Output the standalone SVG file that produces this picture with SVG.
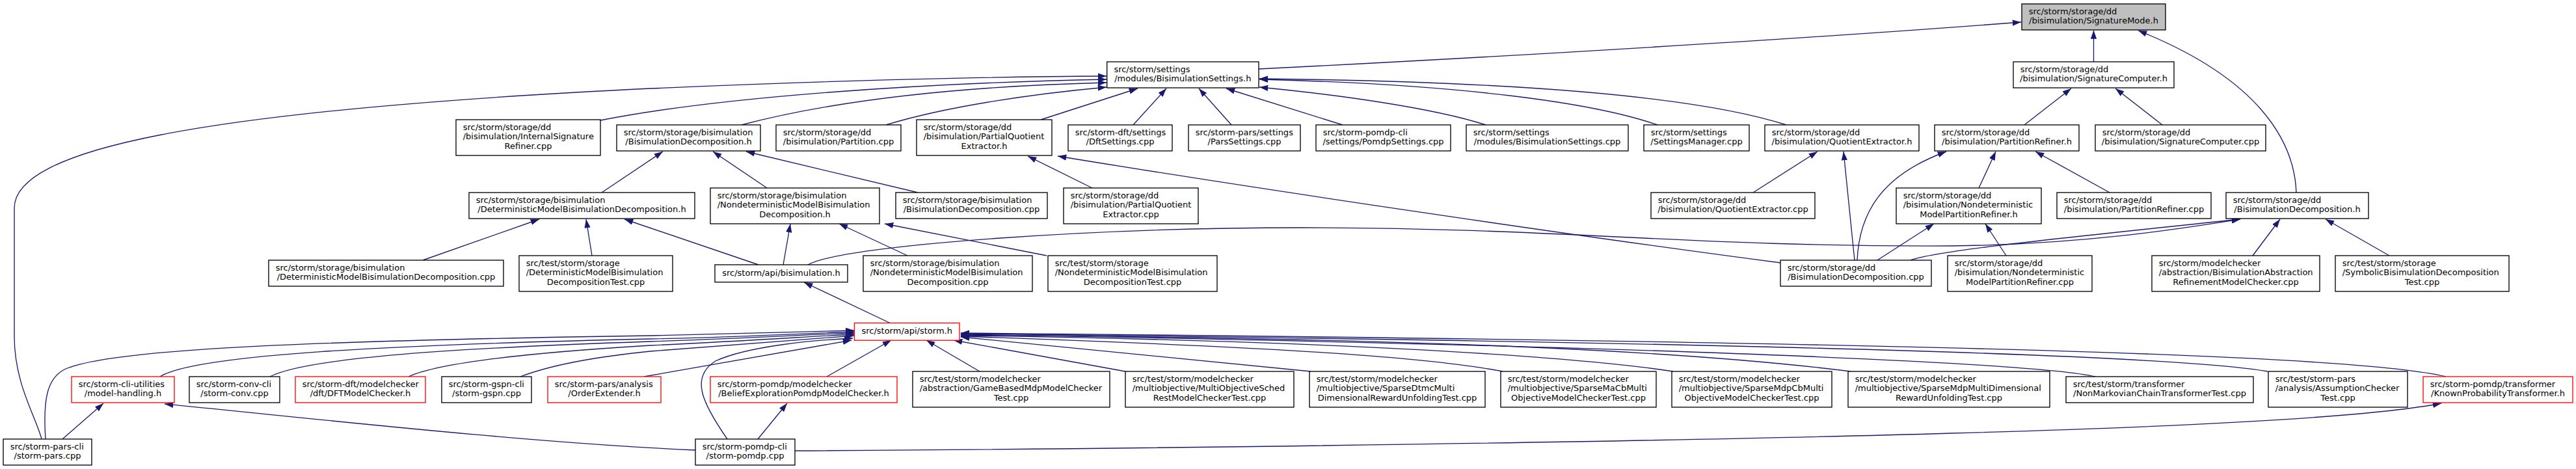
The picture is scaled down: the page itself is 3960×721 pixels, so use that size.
<svg xmlns="http://www.w3.org/2000/svg" width="3960" height="721" viewBox="0 0 3960 721">
<style>
.n rect{fill:#fff;stroke:#000;stroke-width:1.33}
.n.r rect{stroke:#ff0000}
.n.root rect{fill:#bfbfbf}
text{font-family:"DejaVu Sans","Liberation Sans",sans-serif;font-size:13px;fill:#000}
.c{text-anchor:middle}
#edges path{fill:none;stroke:#191970;stroke-width:1.33;marker-end:url(#a)}
</style>
<defs>
<marker id="a" viewBox="0 0 10 7" refX="10" refY="3.5" markerWidth="10" markerHeight="7" orient="auto" markerUnits="strokeWidth">
<path d="M0,0L10,3.5L0,7z" fill="#191970"/>
</marker>
</defs>
<rect width="3960" height="721" fill="#fff"/>
<g id="edges">
<path d="M1935,106 C2300,88 2800,58 3107,34"/>
<path d="M3218.5,95 L3218.5,46.5"/>
<path d="M3530,296 C3527,215 3470,120 3287,47"/>
<path d="M3112,192 L3184,136"/>
<path d="M3324,192 L3252,136"/>
<path d="M64,675 C55,640 22,590 22,517 L22,320 C22,230 300,170 1000,136 C1300,123 1500,118 1701,117"/>
<path d="M923,185 C1100,150 1400,128 1701,122"/>
<path d="M1140,192 C1300,150 1500,132 1701,127"/>
<path d="M1362,192 C1450,165 1580,145 1701,134"/>
<path d="M1600,184 L1749,136"/>
<path d="M1742,192 L1793,136"/>
<path d="M1893,192 L1843,136"/>
<path d="M2064,192 L1885,136"/>
<path d="M2284,192 C2200,165 2050,145 1936,134"/>
<path d="M2548,192 C2450,158 2250,130 1936,122"/>
<path d="M2746,192 C2600,145 2300,125 1936,121"/>
<path d="M925,296 L1019,233"/>
<path d="M1179,289 L1096,233"/>
<path d="M1411,296 L1147,233"/>
<path d="M1679,289 L1580,240"/>
<path d="M2737,404 C2400,360 1900,285 1626,240"/>
<path d="M1166,407 L960,337"/>
<path d="M650,400 L829,337"/>
<path d="M910,393 L901,337"/>
<path d="M1204,407 L1215,344"/>
<path d="M1395,393 L1290,344"/>
<path d="M1609,393 L1360,344"/>
<path d="M1242,407 C1300,375 1700,350 2000,350 C2400,350 2600,380 3000,378 C3200,376 3350,352 3444,337"/>
<path d="M2937,400 C2980,385 3150,368 3444,337"/>
<path d="M2695,296 L2794,233"/>
<path d="M2851,400 L2834,233"/>
<path d="M2855,400 C2858,330 2890,270 2992,233"/>
<path d="M2886,400 L2973,344"/>
<path d="M3042,289 L3068,233"/>
<path d="M3243,296 L3129,233"/>
<path d="M3084,393 L3052,344"/>
<path d="M3463,393 L3505,337"/>
<path d="M3673,393 L3575,337"/>
<path d="M1369,497 L1236,434"/>
<path d="M70,675 C66,615 72,582 99,568 C160,540 400,525 1000,516 C1150,513 1250,509 1313,508"/>
<path d="M246,579 C300,545 600,530 1000,521 C1150,518 1250,512 1313,510"/>
<path d="M415,579 C470,550 700,535 1000,525 C1150,520 1250,514 1313,512"/>
<path d="M628,579 C680,555 850,540 1000,531 C1150,524 1250,517 1313,514"/>
<path d="M800,579 C850,560 920,548 1000,540 C1150,528 1250,520 1313,516"/>
<path d="M990,579 L1309,523"/>
<path d="M1118,675 C1080,620 1060,580 1100,555 C1150,532 1250,523 1311,520"/>
<path d="M1506,571 L1424,523"/>
<path d="M1730,571 L1466,523"/>
<path d="M2015,571 L1477,518"/>
<path d="M2310,571 C2200,550 2000,535 1477,517"/>
<path d="M2572,571 C2400,545 2000,523 1477,516"/>
<path d="M2845,571 C2600,540 2200,520 1477,515"/>
<path d="M3221,579 C3150,562 2700,535 1477,514"/>
<path d="M3486,571 C3350,548 2800,528 1477,513"/>
<path d="M3760,579 C3650,552 3200,528 1477,512"/>
<path d="M1271,579 L1370,523"/>
<path d="M1165,675 L1210,620"/>
<path d="M96,675 L159,620"/>
<path d="M1069,692 C800,680 450,640 253,621"/>
<path d="M1222,693 C1800,690 2600,678 3000,666 C3400,655 3650,640 3753,620"/>
</g>
<g id="n0" class="n root"><rect x="3108" y="6" width="221" height="40"/><text x="3118.7" y="21.6">src/storm/storage/dd</text><text class="c" x="3218.5" y="36.3">/bisimulation/SignatureMode.h</text></g>
<g id="n1" class="n"><rect x="1701.7" y="95" width="233.3" height="40"/><text x="1712.4" y="110.6">src/storm/settings</text><text class="c" x="1818.3" y="125.3">/modules/BisimulationSettings.h</text></g>
<g id="n2" class="n"><rect x="3095" y="95" width="247" height="40"/><text x="3105.7" y="110.6">src/storm/storage/dd</text><text class="c" x="3218.5" y="125.3">/bisimulation/SignatureComputer.h</text></g>
<g id="n3" class="n"><rect x="701" y="184" width="222" height="55"/><text x="711.7" y="199.6">src/storm/storage/dd</text><text x="711.7" y="214.3">/bisimulation/InternalSignature</text><text class="c" x="812" y="229">Refiner.cpp</text></g>
<g id="n4" class="n"><rect x="948" y="192" width="221" height="40"/><text x="958.7" y="207.6">src/storm/storage/bisimulation</text><text class="c" x="1058.5" y="222.3">/BisimulationDecomposition.h</text></g>
<g id="n5" class="n"><rect x="1193" y="192" width="192" height="40"/><text x="1203.7" y="207.6">src/storm/storage/dd</text><text class="c" x="1289" y="222.3">/bisimulation/Partition.cpp</text></g>
<g id="n6" class="n"><rect x="1409" y="184" width="208" height="55"/><text x="1419.7" y="199.6">src/storm/storage/dd</text><text x="1419.7" y="214.3">/bisimulation/PartialQuotient</text><text class="c" x="1513" y="229">Extractor.h</text></g>
<g id="n7" class="n"><rect x="1642" y="192" width="160" height="40"/><text x="1652.7" y="207.6">src/storm-dft/settings</text><text class="c" x="1722" y="222.3">/DftSettings.cpp</text></g>
<g id="n8" class="n"><rect x="1827" y="192" width="172" height="40"/><text x="1837.7" y="207.6">src/storm-pars/settings</text><text class="c" x="1913" y="222.3">/ParsSettings.cpp</text></g>
<g id="n9" class="n"><rect x="2023" y="192" width="207" height="40"/><text x="2033.7" y="207.6">src/storm-pomdp-cli</text><text class="c" x="2126.5" y="222.3">/settings/PomdpSettings.cpp</text></g>
<g id="n10" class="n"><rect x="2254" y="192" width="249" height="40"/><text x="2264.7" y="207.6">src/storm/settings</text><text class="c" x="2378.5" y="222.3">/modules/BisimulationSettings.cpp</text></g>
<g id="n11" class="n"><rect x="2527" y="192" width="162" height="40"/><text x="2537.7" y="207.6">src/storm/settings</text><text class="c" x="2608" y="222.3">/SettingsManager.cpp</text></g>
<g id="n12" class="n"><rect x="2713" y="192" width="237" height="40"/><text x="2723.7" y="207.6">src/storm/storage/dd</text><text class="c" x="2831.5" y="222.3">/bisimulation/QuotientExtractor.h</text></g>
<g id="n13" class="n"><rect x="2974" y="192" width="222" height="40"/><text x="2984.7" y="207.6">src/storm/storage/dd</text><text class="c" x="3085" y="222.3">/bisimulation/PartitionRefiner.h</text></g>
<g id="n14" class="n"><rect x="3221" y="192" width="262" height="40"/><text x="3231.7" y="207.6">src/storm/storage/dd</text><text class="c" x="3352" y="222.3">/bisimulation/SignatureComputer.cpp</text></g>
<g id="n15" class="n"><rect x="721" y="296" width="347" height="40"/><text x="731.7" y="311.6">src/storm/storage/bisimulation</text><text class="c" x="894.5" y="326.3">/DeterministicModelBisimulationDecomposition.h</text></g>
<g id="n16" class="n"><rect x="1092" y="289" width="260" height="55"/><text x="1102.7" y="304.6">src/storm/storage/bisimulation</text><text x="1102.7" y="319.3">/NondeterministicModelBisimulation</text><text class="c" x="1222" y="334">Decomposition.h</text></g>
<g id="n17" class="n"><rect x="1377" y="296" width="233" height="40"/><text x="1387.7" y="311.6">src/storm/storage/bisimulation</text><text class="c" x="1493.5" y="326.3">/BisimulationDecomposition.cpp</text></g>
<g id="n18" class="n"><rect x="1635" y="289" width="207" height="55"/><text x="1645.7" y="304.6">src/storm/storage/dd</text><text x="1645.7" y="319.3">/bisimulation/PartialQuotient</text><text class="c" x="1738.5" y="334">Extractor.cpp</text></g>
<g id="n19" class="n"><rect x="2538" y="296" width="252" height="40"/><text x="2548.7" y="311.6">src/storm/storage/dd</text><text class="c" x="2664" y="326.3">/bisimulation/QuotientExtractor.cpp</text></g>
<g id="n20" class="n"><rect x="2915" y="289" width="223" height="55"/><text x="2925.7" y="304.6">src/storm/storage/dd</text><text x="2925.7" y="319.3">/bisimulation/Nondeterministic</text><text class="c" x="3026.5" y="334">ModelPartitionRefiner.h</text></g>
<g id="n21" class="n"><rect x="3162" y="296" width="237" height="40"/><text x="3172.7" y="311.6">src/storm/storage/dd</text><text class="c" x="3280.5" y="326.3">/bisimulation/PartitionRefiner.cpp</text></g>
<g id="n22" class="n"><rect x="3422" y="296" width="219" height="40"/><text x="3432.7" y="311.6">src/storm/storage/dd</text><text class="c" x="3531.5" y="326.3">/BisimulationDecomposition.h</text></g>
<g id="n23" class="n"><rect x="413" y="400" width="361" height="40"/><text x="423.7" y="415.6">src/storm/storage/bisimulation</text><text class="c" x="593.5" y="430.3">/DeterministicModelBisimulationDecomposition.cpp</text></g>
<g id="n24" class="n"><rect x="798" y="393" width="236" height="55"/><text x="808.7" y="408.6">src/test/storm/storage</text><text x="808.7" y="423.3">/DeterministicModelBisimulation</text><text class="c" x="916" y="438">DecompositionTest.cpp</text></g>
<g id="n25" class="n"><rect x="1099" y="407" width="204" height="26.7"/><text class="c" x="1201" y="423.6">src/storm/api/bisimulation.h</text></g>
<g id="n26" class="n"><rect x="1327" y="393" width="260" height="55"/><text x="1337.7" y="408.6">src/storm/storage/bisimulation</text><text x="1337.7" y="423.3">/NondeterministicModelBisimulation</text><text class="c" x="1457" y="438">Decomposition.cpp</text></g>
<g id="n27" class="n"><rect x="1611" y="393" width="260" height="55"/><text x="1621.7" y="408.6">src/test/storm/storage</text><text x="1621.7" y="423.3">/NondeterministicModelBisimulation</text><text class="c" x="1741" y="438">DecompositionTest.cpp</text></g>
<g id="n28" class="n"><rect x="2737" y="400" width="232" height="40"/><text x="2747.7" y="415.6">src/storm/storage/dd</text><text class="c" x="2853" y="430.3">/BisimulationDecomposition.cpp</text></g>
<g id="n29" class="n"><rect x="2994" y="393" width="222" height="55"/><text x="3004.7" y="408.6">src/storm/storage/dd</text><text x="3004.7" y="423.3">/bisimulation/Nondeterministic</text><text class="c" x="3105" y="438">ModelPartitionRefiner.cpp</text></g>
<g id="n30" class="n"><rect x="3308" y="393" width="258" height="55"/><text x="3318.7" y="408.6">src/storm/modelchecker</text><text x="3318.7" y="423.3">/abstraction/BisimulationAbstraction</text><text class="c" x="3437" y="438">RefinementModelChecker.cpp</text></g>
<g id="n31" class="n"><rect x="3590" y="393" width="267" height="55"/><text x="3600.7" y="408.6">src/test/storm/storage</text><text x="3600.7" y="423.3">/SymbolicBisimulationDecomposition</text><text class="c" x="3723.5" y="438">Test.cpp</text></g>
<g id="n32" class="n r"><rect x="1313.5" y="496.5" width="161.5" height="26.7"/><text class="c" x="1394.2" y="513.2">src/storm/api/storm.h</text></g>
<g id="n33" class="n r"><rect x="110" y="579" width="158" height="40"/><text x="120.7" y="594.6">src/storm-cli-utilities</text><text class="c" x="189" y="609.3">/model-handling.h</text></g>
<g id="n34" class="n"><rect x="291" y="579" width="139" height="40"/><text x="301.7" y="594.6">src/storm-conv-cli</text><text class="c" x="360.5" y="609.3">/storm-conv.cpp</text></g>
<g id="n35" class="n r"><rect x="454" y="579" width="200" height="40"/><text x="464.7" y="594.6">src/storm-dft/modelchecker</text><text class="c" x="554" y="609.3">/dft/DFTModelChecker.h</text></g>
<g id="n36" class="n"><rect x="679" y="579" width="138" height="40"/><text x="689.7" y="594.6">src/storm-gspn-cli</text><text class="c" x="748" y="609.3">/storm-gspn.cpp</text></g>
<g id="n37" class="n r"><rect x="842" y="579" width="174" height="40"/><text x="852.7" y="594.6">src/storm-pars/analysis</text><text class="c" x="929" y="609.3">/OrderExtender.h</text></g>
<g id="n38" class="n r"><rect x="1092" y="579" width="287" height="40"/><text x="1102.7" y="594.6">src/storm-pomdp/modelchecker</text><text class="c" x="1235.5" y="609.3">/BeliefExplorationPomdpModelChecker.h</text></g>
<g id="n39" class="n"><rect x="1403" y="571" width="303" height="55"/><text x="1413.7" y="586.6">src/test/storm/modelchecker</text><text x="1413.7" y="601.3">/abstraction/GameBasedMdpModelChecker</text><text class="c" x="1554.5" y="616">Test.cpp</text></g>
<g id="n40" class="n"><rect x="1730" y="571" width="259" height="55"/><text x="1740.7" y="586.6">src/test/storm/modelchecker</text><text x="1740.7" y="601.3">/multiobjective/MultiObjectiveSched</text><text class="c" x="1859.5" y="616">RestModelCheckerTest.cpp</text></g>
<g id="n41" class="n"><rect x="2013" y="571" width="270" height="55"/><text x="2023.7" y="586.6">src/test/storm/modelchecker</text><text x="2023.7" y="601.3">/multiobjective/SparseDtmcMulti</text><text class="c" x="2148" y="616">DimensionalRewardUnfoldingTest.cpp</text></g>
<g id="n42" class="n"><rect x="2307" y="571" width="239" height="55"/><text x="2317.7" y="586.6">src/test/storm/modelchecker</text><text x="2317.7" y="601.3">/multiobjective/SparseMaCbMulti</text><text class="c" x="2426.5" y="616">ObjectiveModelCheckerTest.cpp</text></g>
<g id="n43" class="n"><rect x="2570" y="571" width="246" height="55"/><text x="2580.7" y="586.6">src/test/storm/modelchecker</text><text x="2580.7" y="601.3">/multiobjective/SparseMdpCbMulti</text><text class="c" x="2693" y="616">ObjectiveModelCheckerTest.cpp</text></g>
<g id="n44" class="n"><rect x="2841" y="571" width="310" height="55"/><text x="2851.7" y="586.6">src/test/storm/modelchecker</text><text x="2851.7" y="601.3">/multiobjective/SparseMdpMultiDimensional</text><text class="c" x="2996" y="616">RewardUnfoldingTest.cpp</text></g>
<g id="n45" class="n"><rect x="3176" y="579" width="288" height="40"/><text x="3186.7" y="594.6">src/test/storm/transformer</text><text class="c" x="3320" y="609.3">/NonMarkovianChainTransformerTest.cpp</text></g>
<g id="n46" class="n"><rect x="3487" y="571" width="214" height="55"/><text x="3497.7" y="586.6">src/test/storm-pars</text><text x="3497.7" y="601.3">/analysis/AssumptionChecker</text><text class="c" x="3594" y="616">Test.cpp</text></g>
<g id="n47" class="n r"><rect x="3725" y="579" width="230" height="40"/><text x="3735.7" y="594.6">src/storm-pomdp/transformer</text><text class="c" x="3840" y="609.3">/KnownProbabilityTransformer.h</text></g>
<g id="n48" class="n"><rect x="5" y="675" width="136" height="40"/><text x="15.7" y="690.6">src/storm-pars-cli</text><text class="c" x="73" y="705.3">/storm-pars.cpp</text></g>
<g id="n49" class="n"><rect x="1069" y="675" width="153" height="40"/><text x="1079.7" y="690.6">src/storm-pomdp-cli</text><text class="c" x="1145.5" y="705.3">/storm-pomdp.cpp</text></g>
</svg>
